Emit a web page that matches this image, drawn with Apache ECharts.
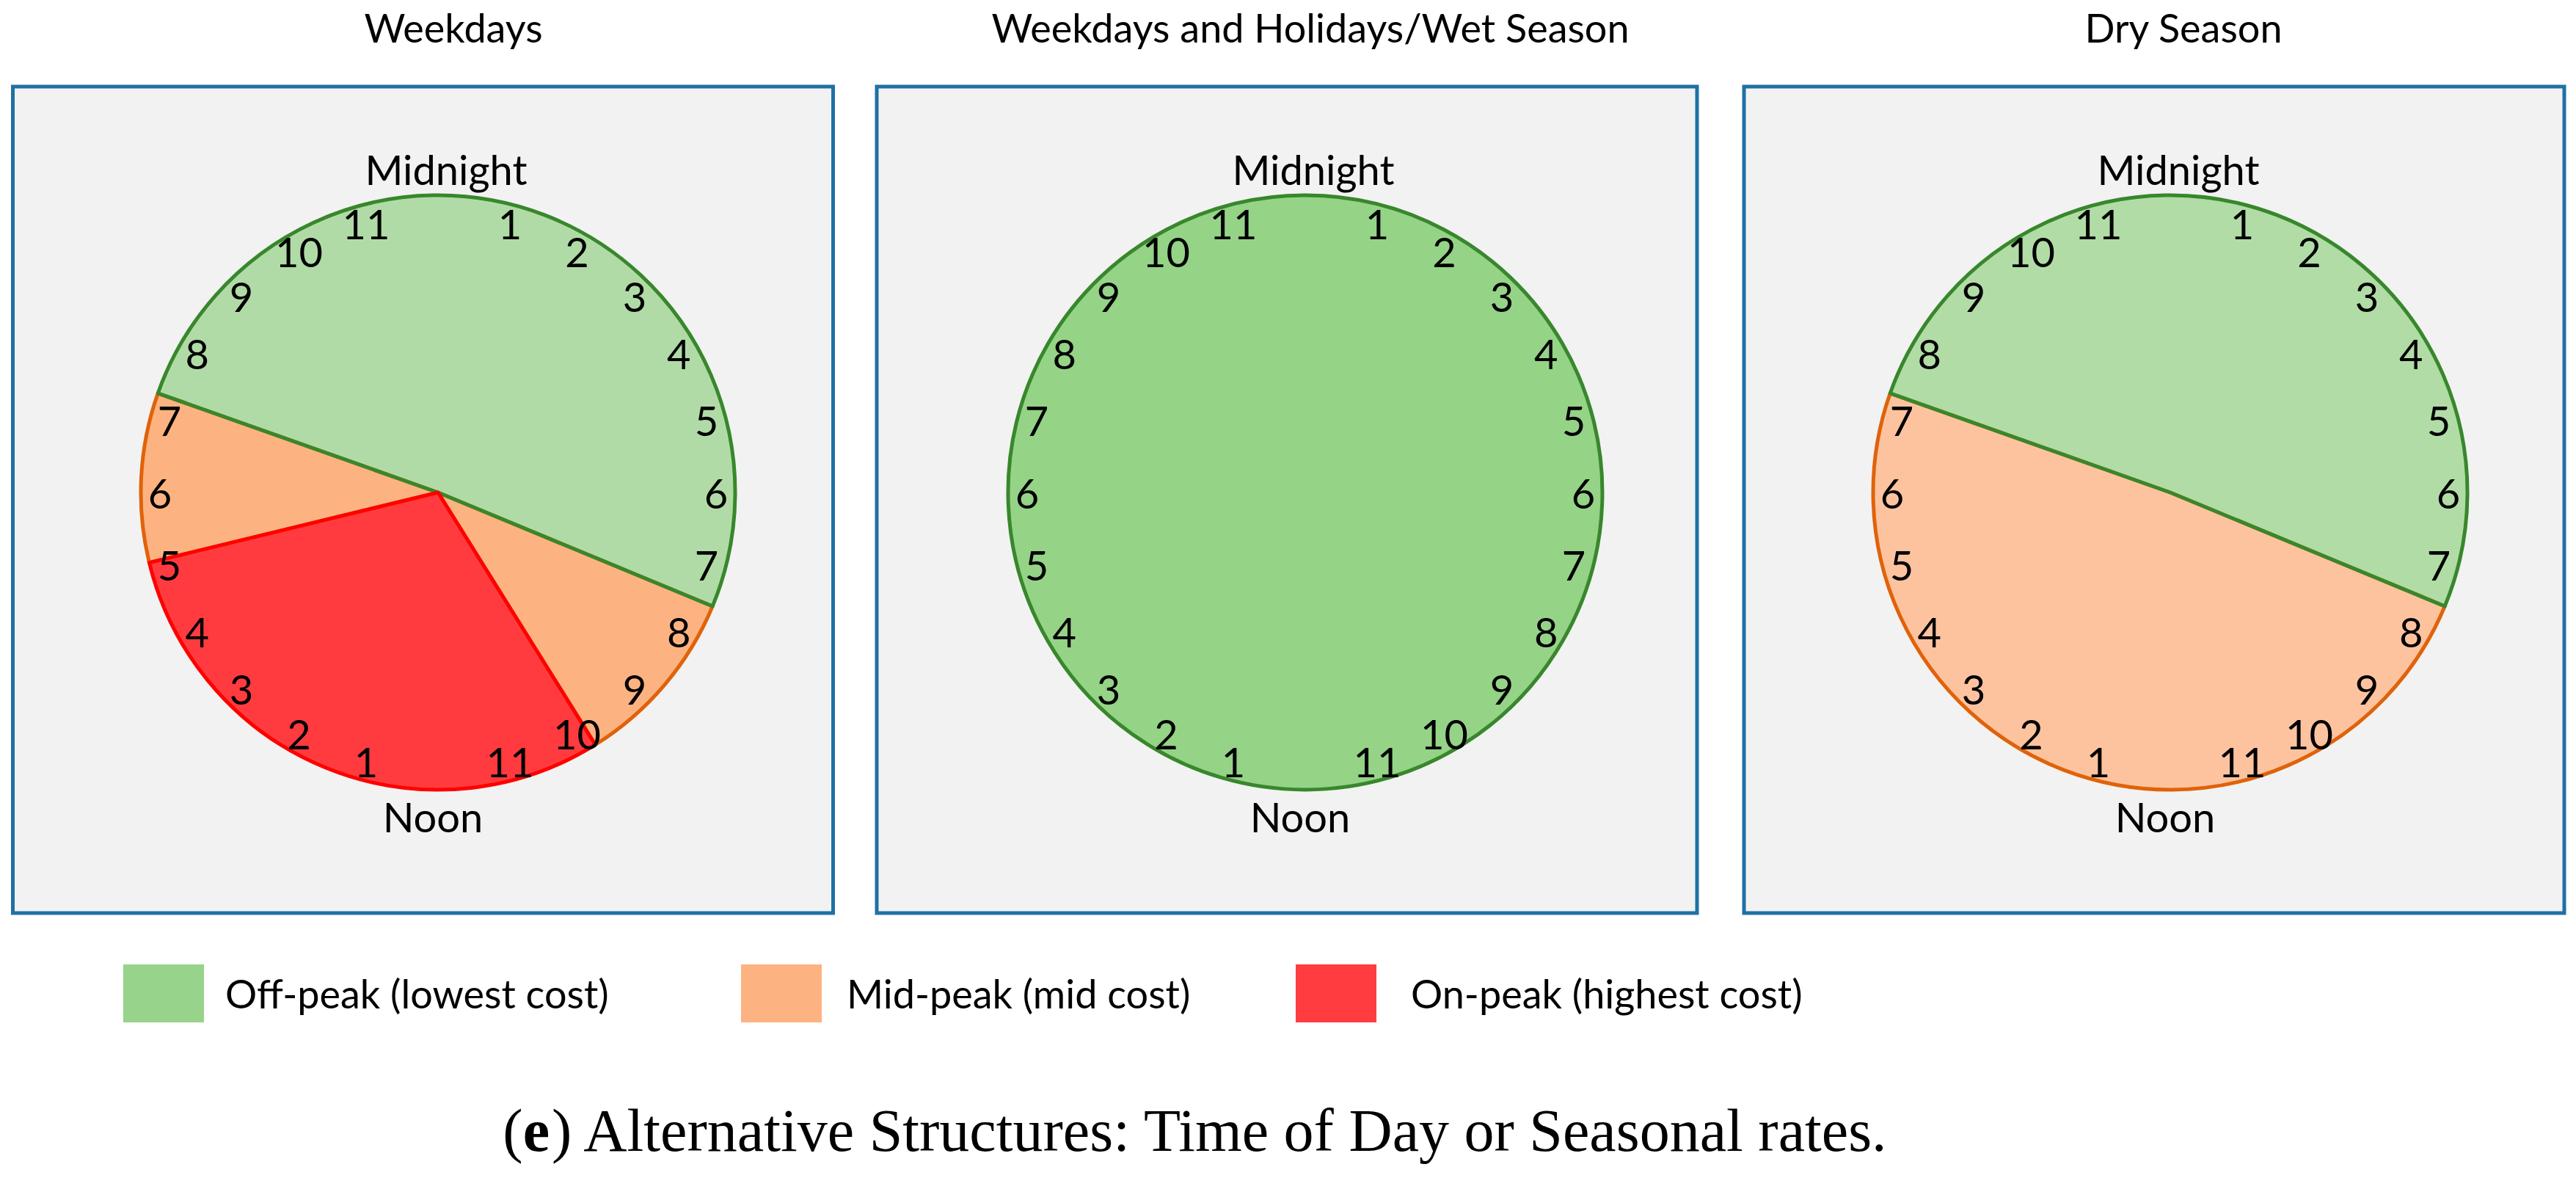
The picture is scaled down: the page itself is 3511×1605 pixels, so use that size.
<!DOCTYPE html>
<html>
<head>
<meta charset="utf-8">
<script src="https://cdn.jsdelivr.net/npm/echarts/dist/echarts.min.js"></script>
<style>
html,body{margin:0;padding:0;background:#ffffff;}
#c{width:3511px;height:1605px;}
</style>
</head>
<body>
<div id="c"></div>
<script>
// ---------------- data ----------------
const categories = ['Off-peak (lowest cost)', 'Mid-peak (mid cost)', 'On-peak (highest cost)'];
const panelTitles = ['Weekdays', 'Weekdays and Holidays/Wet Season', 'Dry Season'];
const hourLabels = ['', '1', '2', '3', '4', '5', '6', '7', '8', '9', '10', '11',
                    '', '1', '2', '3', '4', '5', '6', '7', '8', '9', '10', '11'];
const edgeLabels = ['Midnight', 'Noon'];

// each clock: start hour (24h clock, clockwise from midnight), then consecutive periods
const weekdaysStartHour = 19.3;
const weekdaysPeriods = [0, 1, 2, 1];          // indexes into categories
const weekdaysHours = [12.2, 2.37, 7.22, 2.21];

const wetStartHour = 0;
const wetPeriods = [0];
const wetHours = [24];

const dryStartHour = 19.3;
const dryPeriods = [0, 1];
const dryHours = [12.2, 11.8];

const captionBold = 'e';
const captionText = ' Alternative Structures: Time of Day or Seasonal rates.';

// ---------------- styles / layout ----------------
const FONT = 'Lato';
const fillColors = [
  ['#b1dba6', '#fdb381', '#ff3b3f'],
  ['#95d387', '#fdb381', '#ff3b3f'],
  ['#b1dca6', '#fdc39f', '#ff3b3f']
];
const borderColors = ['#38872c', '#e0620a', '#ff0000'];
const legendColors = ['#97d38a', '#fdb282', '#ff3d40'];

const panels = [
  { start: weekdaysStartHour, periods: weekdaysPeriods, hours: weekdaysHours },
  { start: wetStartHour, periods: wetPeriods, hours: wetHours },
  { start: dryStartHour, periods: dryPeriods, hours: dryHours }
];
const panelLeft = [17.5, 1195, 2377], panelTop = 118, panelW = 1118, panelH = 1126;
const pieCX = [597, 1779, 2958], pieCY = 671, R = 405;
const titleX = [618, 1786, 2976];
const legendLeft = [168, 1010, 1766];
const legendPad = [24, 29, 42];
const edgePadding = [[0, 0, 15, 22], [0, 14, 15, 0]];

const chart = echarts.init(document.getElementById('c'), null, { renderer: 'svg', width: 3511, height: 1605 });

const series = [];
panels.forEach((p, i) => {
  const center = [pieCX[i], pieCY];
  const startAngle = 90 - p.start * 15;
  const common = {
    type: 'pie', center: center, radius: R, startAngle: startAngle, clockwise: true,
    silent: true, animation: false, avoidLabelOverlap: false,
    label: { show: false }, labelLine: { show: false }, emphasis: { disabled: true }
  };
  // fills (mid-peak outlines drawn here, underneath)
  series.push(Object.assign({}, common, {
    name: 'fill' + i,
    data: p.periods.map((c, k) => ({
      name: categories[c], value: p.hours[k],
      itemStyle: { color: fillColors[i][c], borderColor: borderColors[c], borderWidth: c === 1 ? 5 : 0 }
    }))
  }));
  // outlines of off-peak and on-peak periods, on top
  series.push(Object.assign({}, common, {
    name: 'outline' + i,
    data: p.periods.map((c, k) => ({
      name: categories[c], value: p.hours[k],
      itemStyle: { color: 'rgba(0,0,0,0)', borderColor: borderColors[c], borderWidth: c === 1 ? 0 : 5 }
    }))
  }));
  // hour numbers
  series.push({
    type: 'pie', name: 'hours' + i, center: center, radius: [348, 404], startAngle: 97.5, clockwise: true,
    silent: true, animation: false, avoidLabelOverlap: false, minShowLabelAngle: 0,
    itemStyle: { color: 'rgba(0,0,0,0)', borderWidth: 0 },
    label: { show: true, position: 'inside', formatter: '{b}', rotate: 0, color: '#000', fontFamily: FONT, fontSize: 56 },
    labelLine: { show: false }, emphasis: { disabled: true },
    data: hourLabels.map(t => ({ name: t, value: 1 }))
  });
  // Midnight / Noon
  series.push({
    type: 'pie', name: 'edge' + i, center: center, radius: [428, 448], startAngle: 180, clockwise: true,
    silent: true, animation: false, avoidLabelOverlap: false, minShowLabelAngle: 0,
    itemStyle: { color: 'rgba(0,0,0,0)', borderWidth: 0 },
    label: { show: true, position: 'inside', formatter: '{b}', rotate: 0, color: '#000', fontFamily: FONT, fontSize: 56 },
    labelLine: { show: false }, emphasis: { disabled: true },
    data: edgeLabels.map((t, k) => ({ name: t, value: 1, label: { padding: edgePadding[k] } }))
  });
});

const graphics = [];
panelLeft.forEach((x, i) => {
  graphics.push({
    type: 'rect', z: -10, silent: true,
    shape: { x: x, y: panelTop, width: panelW, height: panelH },
    style: { fill: '#f2f2f2', stroke: '#1f71a5', lineWidth: 5 }
  });
  graphics.push({
    type: 'text', silent: true,
    style: { text: panelTitles[i], x: titleX[i], y: 37, textAlign: 'center', textVerticalAlign: 'middle',
             fontFamily: FONT, fontSize: 54, fill: '#000' }
  });
});
graphics.push({
  type: 'text', silent: true,
  style: {
    text: '({b|' + captionBold + '})' + captionText,
    x: 1630, y: 1540, textAlign: 'center', textVerticalAlign: 'middle',
    fontFamily: 'Liberation Serif', fontSize: 82, fill: '#000',
    rich: { b: { fontFamily: 'Liberation Serif', fontSize: 82, fontWeight: 'bold', fill: '#000' } }
  }
});

const option = {
  backgroundColor: '#ffffff',
  animation: false,
  graphic: { elements: graphics },
  legend: categories.map((c, k) => ({
    left: legendLeft[k], top: 1314, padding: 0, orient: 'horizontal',
    itemWidth: 110, itemHeight: 79, selectedMode: false,
    data: [{ name: c, icon: 'rect', itemStyle: { color: legendColors[k], borderWidth: 0, borderColor: 'transparent' } }],
    textStyle: { fontFamily: FONT, fontSize: 54, color: '#000', padding: [20, 0, 0, legendPad[k]] }
  })),
  series: series
};
chart.setOption(option);
</script>
</body>
</html>
